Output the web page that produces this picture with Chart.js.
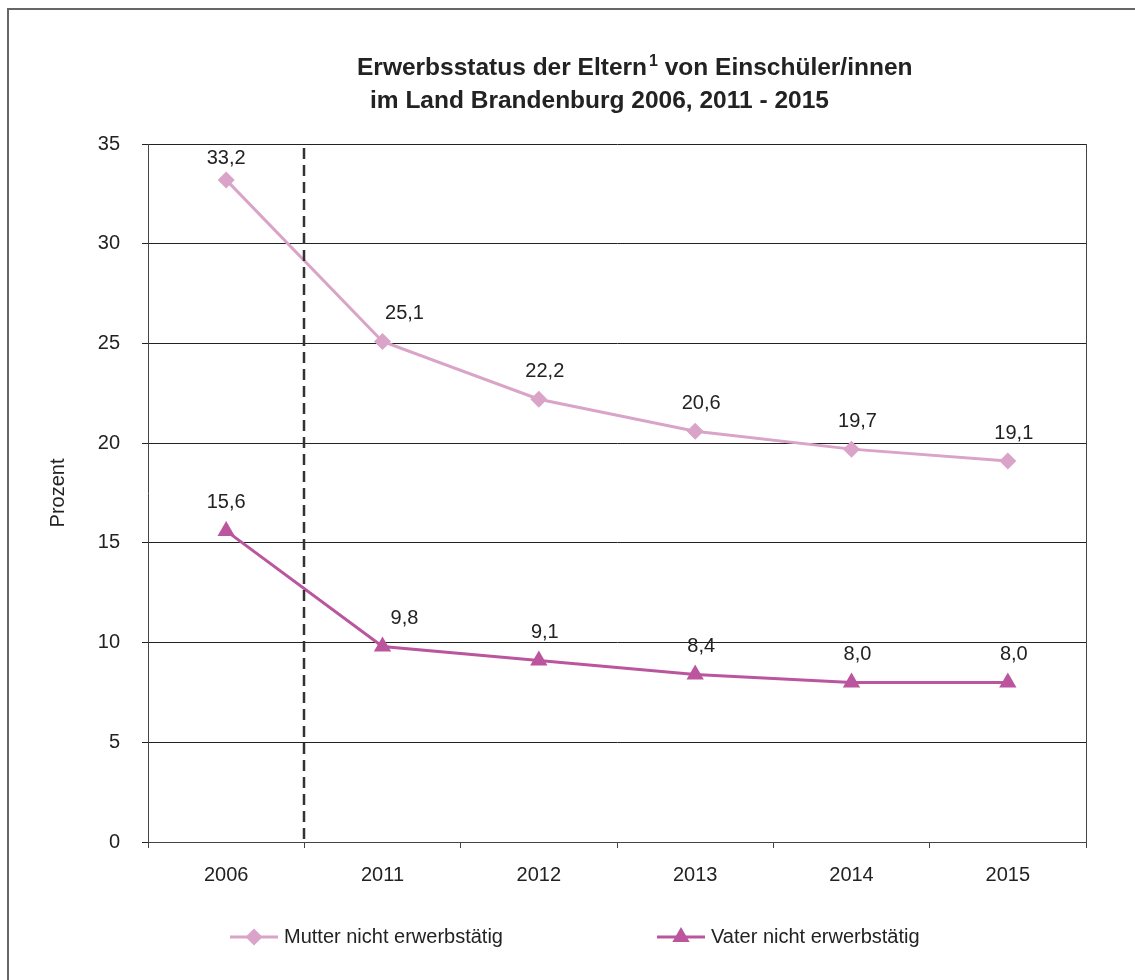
<!DOCTYPE html>
<html>
<head>
<meta charset="utf-8">
<script src="https://cdn.jsdelivr.net/npm/chart.js@4.4.0/dist/chart.umd.min.js"></script>
<style>
  html, body { margin: 0; padding: 0; background: #fff; }
  #wrap { width: 1135px; height: 980px; }
</style>
</head>
<body>
<div id="wrap"><canvas id="erwerbChart" width="1135" height="980"></canvas></div>
<script>
const years = ['2006', '2011', '2012', '2013', '2014', '2015'];
const mutterValues = [33.2, 25.1, 22.2, 20.6, 19.7, 19.1];
const vaterValues = [15.6, 9.8, 9.1, 8.4, 8.0, 8.0];
const yTicks = [0, 5, 10, 15, 20, 25, 30, 35];

const FONT = '"Liberation Sans", Arial, sans-serif';
const mutterColor = '#d9a4c8';
const vaterColor = '#bb559d';

const fmt = v => v.toFixed(1).replace('.', ',');

// frame, title, dashed separator, value labels and legend
const decorations = {
    id: 'decorations',
    beforeDraw(chart) {
        const c = chart.ctx;
        c.save();
        c.fillStyle = '#fff';
        c.fillRect(0, 0, chart.width, chart.height);
        c.strokeStyle = '#666';
        c.lineWidth = 2;
        c.beginPath();
        c.moveTo(8, 981);
        c.lineTo(8, 9);
        c.lineTo(1136, 9);
        c.stroke();
        c.restore();
    },
    afterDatasetsDraw(chart) {
        const c = chart.ctx;
        const area = chart.chartArea;
        const x = chart.scales.x;

        c.save();
        // plot border (right side)
        c.strokeStyle = '#444';
        c.lineWidth = 1;
        c.beginPath();
        c.moveTo(Math.round(area.right) + 0.5, area.top);
        c.lineTo(Math.round(area.right) + 0.5, area.bottom);
        c.stroke();

        // dashed line between 2006 and 2011
        const sep = Math.round((x.getPixelForValue(0) + x.getPixelForValue(1)) / 2);
        c.strokeStyle = '#333';
        c.lineWidth = 2.5;
        c.setLineDash([11, 6]);
        c.beginPath();
        c.moveTo(sep, area.top + 4);
        c.lineTo(sep, area.bottom);
        c.stroke();
        c.setLineDash([]);

        // value labels
        c.font = '20px ' + FONT;
        c.fillStyle = '#222';
        c.textAlign = 'center';
        c.textBaseline = 'middle';
        chart.data.datasets.forEach((ds, di) => {
            chart.getDatasetMeta(di).data.forEach((pt, i) => {
                const dx = i === 1 ? 22 : (i === 0 ? 0 : 6);
                const ly = Math.max(pt.y - 28, area.top + 14);
                c.fillText(fmt(ds.data[i]), pt.x + dx, ly);
            });
        });
        c.restore();
    },
    afterDraw(chart) {
        const c = chart.ctx;
        c.save();
        // title
        c.fillStyle = '#222';
        c.textBaseline = 'alphabetic';
        c.textAlign = 'left';
        c.font = 'bold 24.5px ' + FONT;
        let tx = 357;
        const a = 'Erwerbsstatus der Eltern';
        c.fillText(a, tx, 75);
        tx += c.measureText(a).width + 2;
        c.font = 'bold 16px ' + FONT;
        c.fillText('1', tx, 66);
        tx += c.measureText('1').width;
        c.font = 'bold 24.5px ' + FONT;
        c.fillText(' von Einschüler/innen', tx, 75);
        c.fillText('im Land Brandenburg 2006, 2011 - 2015', 370, 108);

        // legend
        const items = [
            { ds: chart.data.datasets[0], x: 230 },
            { ds: chart.data.datasets[1], x: 657 }
        ];
        const ly = 937;
        items.forEach(it => {
            c.strokeStyle = it.ds.borderColor;
            c.lineWidth = 3;
            c.beginPath();
            c.moveTo(it.x, ly);
            c.lineTo(it.x + 48, ly);
            c.stroke();
            c.fillStyle = it.ds.backgroundColor;
            c.strokeStyle = it.ds.backgroundColor;
            Chart.helpers.drawPoint(c, {
                pointStyle: it.ds.pointStyle,
                radius: it.ds.pointRadius,
                rotation: 0,
                borderWidth: 0
            }, it.x + 24, ly);
            c.fillStyle = '#222';
            c.font = '20px ' + FONT;
            c.textBaseline = 'middle';
            c.fillText(it.ds.label, it.x + 54, ly);
        });
        c.restore();
    }
};

const ctx = document.getElementById('erwerbChart').getContext('2d');

const erwerbChart = new Chart(ctx, {
    type: 'line',
    data: {
        labels: years,
        datasets: [{
            label: 'Mutter nicht erwerbstätig',
            data: mutterValues,
            borderColor: mutterColor,
            backgroundColor: mutterColor,
            borderWidth: 3,
            pointStyle: 'rectRot',
            pointRadius: 8.5,
            pointBorderWidth: 0,
            tension: 0
        }, {
            label: 'Vater nicht erwerbstätig',
            data: vaterValues,
            borderColor: vaterColor,
            backgroundColor: vaterColor,
            borderWidth: 3,
            pointStyle: 'triangle',
            pointRadius: 10,
            pointBorderWidth: 0,
            tension: 0
        }]
    },
    options: {
        responsive: false,
        animation: false,
        events: [],
        layout: {
            padding: { top: 144, right: 49, bottom: 78, left: 46 }
        },
        plugins: {
            legend: { display: false },
            title: { display: false },
            tooltip: { enabled: false }
        },
        scales: {
            x: {
                offset: true,
                grid: {
                    offset: true,
                    drawOnChartArea: false,
                    drawTicks: true,
                    tickLength: 6,
                    color: '#444'
                },
                border: { color: '#444', width: 1 },
                ticks: {
                    color: '#222',
                    font: { family: FONT, size: 20 },
                    padding: 15,
                    maxRotation: 0
                },
                afterFit(scale) { scale.height = 60; }
            },
            y: {
                min: 0,
                max: 35,
                afterBuildTicks(scale) {
                    scale.ticks = yTicks.map(v => ({ value: v }));
                },
                grid: {
                    color: '#222',
                    lineWidth: 1,
                    drawTicks: true,
                    tickLength: 6
                },
                border: { color: '#444', width: 1 },
                ticks: {
                    color: '#222',
                    font: { family: FONT, size: 20 },
                    padding: 22
                },
                title: {
                    display: true,
                    text: 'Prozent',
                    color: '#222',
                    font: { family: FONT, size: 20 },
                    padding: { top: 0, bottom: 0 }
                },
                afterFit(scale) { scale.width = 102; }
            }
        }
    },
    plugins: [decorations]
});
</script>
</body>
</html>
